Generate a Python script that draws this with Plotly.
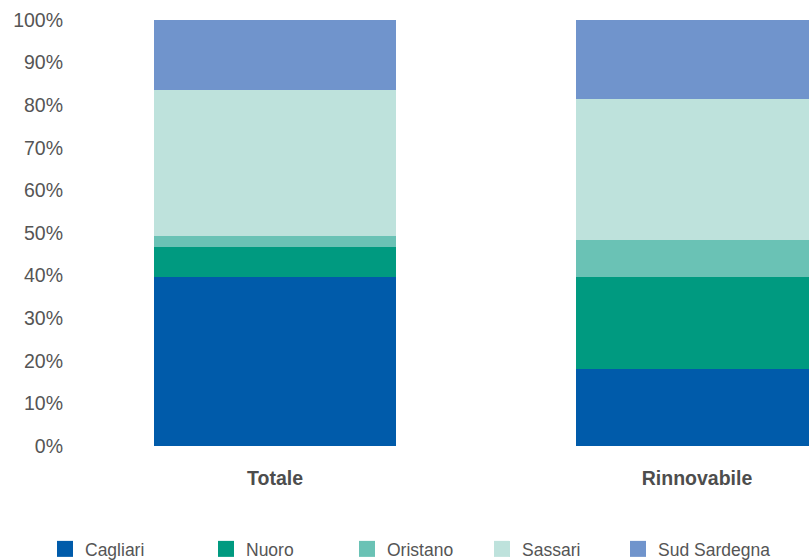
import plotly.graph_objects as go

categories = ["Totale", "Rinnovabile"]
series_names = ["Cagliari", "Nuoro", "Oristano", "Sassari", "Sud Sardegna"]
cagliari = [39.7, 18.1]
nuoro = [7.1, 21.6]
oristano = [2.5, 8.7]
sassari = [34.2, 33.1]
sud_sardegna = [16.5, 18.5]
colors = ["#005BAA", "#009A80", "#6AC2B5", "#BEE2DC", "#7094CC"]
y_ticks = [0, 10, 20, 30, 40, 50, 60, 70, 80, 90, 100]

values = [cagliari, nuoro, oristano, sassari, sud_sardegna]
xpos = list(range(len(categories)))

W, H = 809, 560
ml, mr, mt, mb = 64, 0, 20, 114
plot_w = W - ml - mr
plot_h = H - mt - mb
px_per_cat = 422
left = -(275 - ml) / px_per_cat
right = left + plot_w / px_per_cat

legend_ids = ["legend", "legend2", "legend3", "legend4", "legend5"]
legend_px = [45, 206, 347, 482, 618]

fig = go.Figure()
for name, vals, col, lid in zip(series_names, values, colors, legend_ids):
    fig.add_trace(go.Bar(x=xpos, y=vals, name=name, marker=dict(color=col, line=dict(width=0)),
                         width=0.573, showlegend=False))
    fig.add_trace(go.Scatter(x=[None], y=[None], name=name, mode="markers",
                             marker=dict(symbol="square", size=22, color=col),
                             legend=lid, showlegend=True))

legends = {}
for lid, lx in zip(legend_ids, legend_px):
    legends[lid] = dict(orientation="h", x=(lx - ml) / plot_w, xanchor="left",
                        y=(plot_h + mt - 549) / plot_h, yanchor="middle",
                        font=dict(size=17.5, color="#555555"), bgcolor="rgba(0,0,0,0)")

fig.update_layout(
    barmode="stack",
    width=W, height=H,
    margin=dict(l=ml, r=mr, t=mt, b=mb, pad=0, autoexpand=False),
    plot_bgcolor="white", paper_bgcolor="white",
    font=dict(family="Liberation Sans, Arial, sans-serif", color="#555555", size=17),
    xaxis=dict(range=[left, right], tickvals=xpos,
               ticktext=["<b>%s</b>" % c for c in categories],
               showgrid=False, zeroline=False, showline=False, ticks="",
               automargin=False, ticklabelstandoff=18,
               tickfont=dict(size=19.5, color="#4d4d4d")),
    yaxis=dict(range=[0, 100], tickvals=y_ticks, ticktext=["%d%%" % v for v in y_ticks],
               showgrid=False, zeroline=False, showline=False, ticks="",
               automargin=False,
               tickfont=dict(size=19.5, color="#555555")),
    **legends,
)

fig.write_html("out.html", config={"displayModeBar": False},
               post_script="document.body.style.margin='0px';document.body.style.overflow='hidden';")
